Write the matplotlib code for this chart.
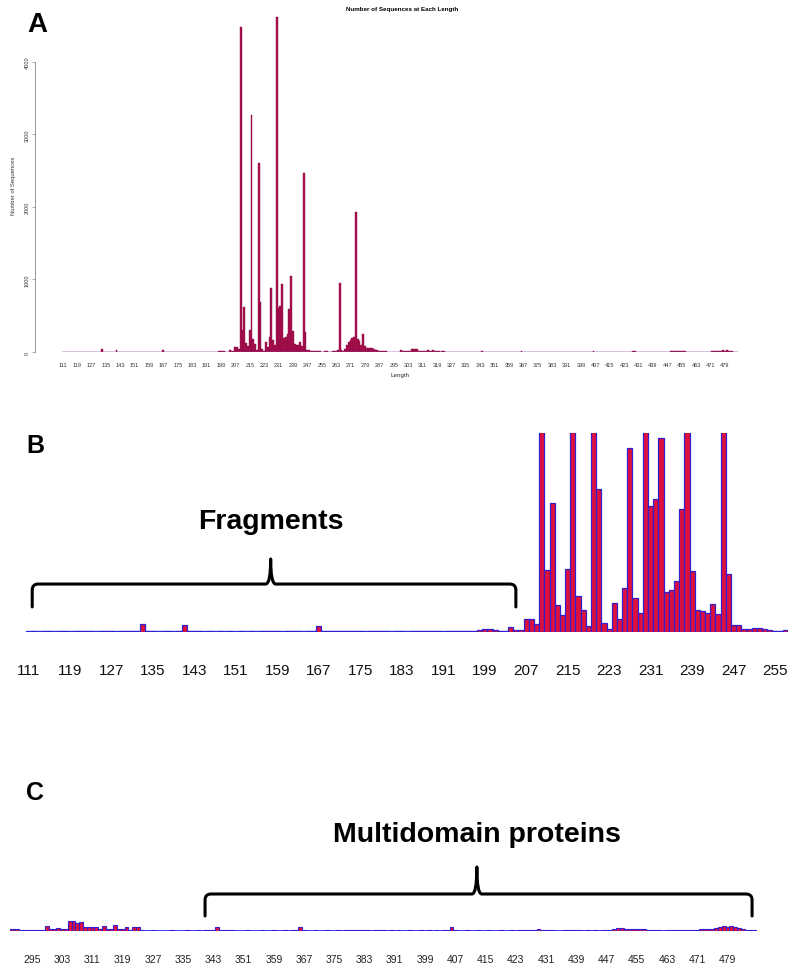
import numpy as np
import matplotlib.pyplot as plt
from matplotlib.path import Path
from matplotlib.patches import PathPatch

plt.rcParams['font.family'] = ['Liberation Sans', 'DejaVu Sans']

# Anzahl Sequenzen je Laenge (111 .. 486)
lengths = np.arange(111, 487)

counts_111_200 = [2, 3, 2, 3, 3, 2, 4, 3, 2, 3,
                  3, 4, 3, 2, 3, 4, 3, 2, 5, 4,
                  3, 6, 40, 5, 3, 2, 3, 4, 2, 5,
                  32, 6, 4, 3, 2, 3, 2, 3, 2, 3,
                  2, 3, 2, 3, 2, 3, 5, 3, 4, 2,
                  3, 4, 3, 2, 5, 6, 29, 6, 3, 4,
                  3, 5, 6, 4, 3, 2, 3, 4, 5, 3,
                  2, 3, 4, 2, 3, 4, 3, 5, 4, 3,
                  2, 3, 4, 5, 4, 6, 5, 12, 14, 13]
counts_201_290 = [12, 6, 5, 24, 8, 12, 63, 63, 39, 4480,
                  299, 622, 130, 82, 304, 3270, 174, 106, 29, 2600,
                  690, 43, 14, 140, 63, 212, 887, 164, 94, 4620,
                  607, 641, 935, 193, 202, 246, 593, 1050, 294, 106,
                  101, 92, 135, 87, 2470, 280, 34, 34, 14, 14,
                  19, 19, 14, 10, 5, 5, 10, 8, 6, 5,
                  8, 10, 15, 25, 950, 30, 20, 40, 90, 140,
                  170, 190, 200, 1930, 180, 150, 100, 250, 80, 60,
                  55, 50, 50, 45, 30, 25, 20, 15, 10, 10]
counts_291_390 = [10, 5, 5, 5, 5, 5, 5, 5, 24, 10,
                  10, 14, 10, 10, 48, 48, 40, 44, 20, 17,
                  17, 17, 10, 24, 10, 10, 29, 10, 10, 19,
                  5, 19, 19, 3, 2, 2, 3, 2, 2, 2,
                  2, 3, 2, 2, 2, 3, 2, 2, 3, 2,
                  3, 3, 4, 19, 3, 3, 5, 3, 2, 2,
                  2, 3, 2, 2, 2, 3, 2, 2, 3, 2,
                  2, 3, 2, 3, 4, 19, 3, 2, 2, 3,
                  2, 2, 3, 2, 2, 3, 2, 3, 4, 5,
                  3, 4, 5, 3, 2, 3, 4, 3, 2, 3]
counts_391_486 = [2, 3, 2, 2, 3, 2, 2, 3, 2, 3,
                  2, 3, 2, 3, 4, 19, 3, 2, 2, 3,
                  2, 2, 3, 2, 2, 3, 2, 2, 3, 2,
                  2, 3, 2, 3, 4, 5, 6, 7, 8, 6,
                  5, 4, 3, 2, 2, 3, 4, 5, 4, 3,
                  2, 3, 2, 3, 2, 3, 4, 5, 10, 14,
                  14, 12, 10, 9, 8, 10, 9, 6, 4, 3,
                  3, 2, 3, 4, 3, 5, 4, 6, 5, 4,
                  6, 8, 9, 10, 12, 14, 18, 24, 20, 22,
                  18, 14, 8, 5, 4, 5]
counts = np.array(counts_111_200 + counts_201_290 + counts_291_390 + counts_391_486)

ticks_a = np.arange(111, 480, 8)
ticks_b = np.arange(111, 256, 8)
ticks_c = np.arange(295, 480, 8)
yticks_a = [0, 1000, 2000, 3000, 4000]

W, H = 800, 970
RED = '#e0103c'
BLUE = '#3020d0'


def box(l, t, r, b):
    # Pixel -> Figurenkoordinaten
    return [l / W, 1 - b / H, (r - l) / W, (b - t) / H]


def brace(ax, x0, x1, xc, y_line, y_tip, y_peak, rx, ry, w):
    verts = [(x0, y_tip), (x0, y_line - ry), (x0, y_line), (x0 + rx, y_line),
             (xc - w, y_line), (xc, y_line), (xc, y_peak), (xc, y_line), (xc + w, y_line),
             (x1 - rx, y_line), (x1, y_line), (x1, y_line - ry), (x1, y_tip)]
    codes = [Path.MOVETO, Path.LINETO, Path.CURVE3, Path.CURVE3,
             Path.LINETO, Path.CURVE3, Path.CURVE3, Path.CURVE3, Path.CURVE3,
             Path.LINETO, Path.CURVE3, Path.CURVE3, Path.LINETO]
    ax.add_patch(PathPatch(Path(verts, codes), transform=ax.get_xaxis_transform(),
                           fill=False, lw=2.2, color='black', clip_on=False,
                           capstyle='round', joinstyle='round'))


def baseline(ax, x0, x1, color, lw, z=1):
    # durchgehende Grundlinie wie die Balkenraender in R
    ax.hlines(0, x0, x1, color=color, lw=lw, zorder=z)


fig = plt.figure(figsize=(8, 9.7), dpi=100)

# Panel A: Gesamtverteilung
ax_a = fig.add_axes(box(35, 12, 770, 353))
ax_a.bar(lengths, counts, width=1.0, color='#a8104c', edgecolor='#8a0a45',
         linewidth=0.3, zorder=2)
baseline(ax_a, lengths[0] - 0.5, lengths[-1] + 0.5, '#8c8cff', 0.9, z=3)
ax_a.set_xlim(95.7, 504.0)
ax_a.set_ylim(0, 4703)
for s in ['top', 'right', 'bottom']:
    ax_a.spines[s].set_visible(False)
ax_a.spines['left'].set_bounds(0, 4000)
ax_a.spines['left'].set_color('#888888')
ax_a.spines['left'].set_linewidth(0.6)
ax_a.set_xticks(ticks_a)
ax_a.set_xticklabels([str(t) for t in ticks_a])
ax_a.tick_params(axis='x', length=0, pad=7, labelsize=4, labelcolor='#333333')
ax_a.set_yticks(yticks_a)
ax_a.set_yticklabels([str(t) for t in yticks_a], rotation=90, va='center')
ax_a.tick_params(axis='y', length=2, width=0.5, color='#888888', pad=2,
                 labelsize=4, labelcolor='#333333')
ax_a.set_title('Number of Sequences at Each Length', fontsize=4.5,
               fontweight='bold', pad=1)
ax_a.set_xlabel('Length', fontsize=4.5, color='#333333')
ax_a.xaxis.set_label_coords(0.497, -0.06)
ax_a.set_ylabel('Number of Sequences', fontsize=4.2, color='#333333')
ax_a.yaxis.set_label_coords(-0.026, 0.49)

# Panel B: Ausschnitt 111-257
ax_b = fig.add_axes(box(26, 434, 788, 633))
baseline(ax_b, 110.5, 257.5, '#2828e8', 1.6)
ax_b.bar(lengths, counts, width=1.0, color=RED, edgecolor=BLUE, linewidth=0.9, zorder=2)
ax_b.set_xlim(110.5, 257.5)
ax_b.set_ylim(0, 960)
for s in ax_b.spines.values():
    s.set_visible(False)
ax_b.set_yticks([])
ax_b.set_xticks(ticks_b)
ax_b.set_xticklabels([str(t) for t in ticks_b])
ax_b.tick_params(axis='x', length=0, pad=22, labelsize=11, labelcolor='#111111')
brace(ax_b, 111.7, 205.0, 157.7, 0.241, 0.126, 0.367, 1.16, 0.03, 0.97)
ax_b.text(157.7, 0.558, 'Fragments', transform=ax_b.get_xaxis_transform(),
          ha='center', va='center', fontsize=20.5, fontweight='bold')

# Panel C: Ausschnitt 289-487
ax_c = fig.add_axes(box(10, 832, 760, 932))
baseline(ax_c, 289.2, lengths[-1] + 0.5, '#3434f0', 1.3)
ax_c.bar(lengths, counts, width=1.0, color=RED, edgecolor=BLUE, linewidth=0.8, zorder=2)
ax_c.set_xlim(289.2, 487.6)
ax_c.set_ylim(0, 482)
for s in ax_c.spines.values():
    s.set_visible(False)
ax_c.set_yticks([])
ax_c.set_xticks(ticks_c)
ax_c.set_xticklabels([str(t) for t in ticks_c])
ax_c.tick_params(axis='x', length=0, pad=16.5, labelsize=7.5, labelcolor='#222222')
brace(ax_c, 340.8, 485.5, 412.7, 0.37, 0.15, 0.64, 1.6, 0.06, 1.3)
ax_c.text(412.7, 0.97, 'Multidomain proteins', transform=ax_c.get_xaxis_transform(),
          ha='center', va='center', fontsize=20.5, fontweight='bold')

# Panelbuchstaben
fig.text(37 / W, 1 - 25 / H, 'A', fontsize=20, fontweight='bold', ha='center', va='center')
fig.text(35 / W, 1 - 446 / H, 'B', fontsize=18, fontweight='bold', ha='center', va='center')
fig.text(35 / W, 1 - 793 / H, 'C', fontsize=18, fontweight='bold', ha='center', va='center')

fig.savefig('out.png', dpi=100, facecolor='white')
